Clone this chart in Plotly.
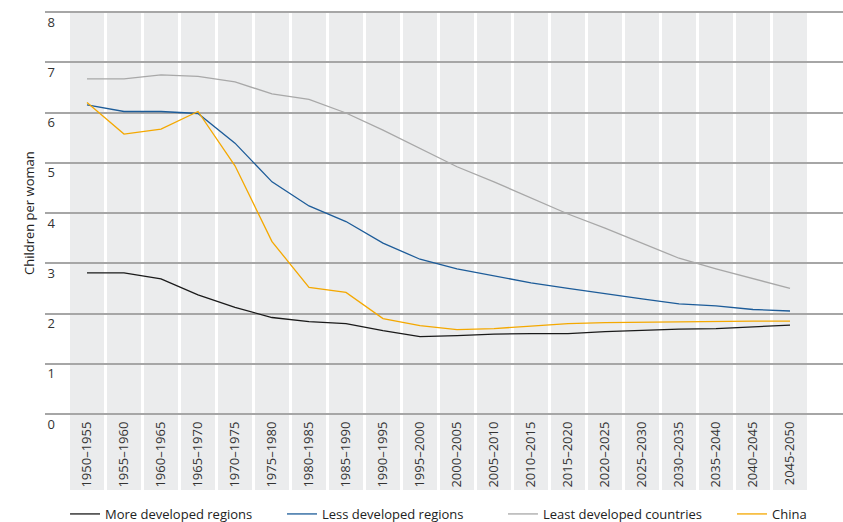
import plotly.graph_objects as go

periods = ["1950–1955", "1955–1960", "1960–1965", "1965–1970", "1970–1975",
           "1975–1980", "1980–1985", "1985–1990", "1990–1995", "1995–2000",
           "2000–2005", "2005–2010", "2010–2015", "2015–2020", "2020–2025",
           "2025–2030", "2030–2035", "2035–2040", "2040–2045", "2045-2050"]

more_developed = [2.81, 2.81, 2.69, 2.37, 2.12, 1.92, 1.84, 1.80, 1.66, 1.54,
                  1.56, 1.59, 1.60, 1.60, 1.64, 1.67, 1.69, 1.70, 1.73, 1.77]
less_developed = [6.15, 6.02, 6.02, 5.98, 5.39, 4.62, 4.14, 3.83, 3.40, 3.08,
                  2.89, 2.75, 2.61, 2.50, 2.39, 2.29, 2.19, 2.15, 2.08, 2.05]
least_developed = [6.67, 6.67, 6.75, 6.72, 6.61, 6.37, 6.26, 5.99, 5.65, 5.29,
                   4.92, 4.62, 4.30, 3.98, 3.70, 3.40, 3.10, 2.89, 2.69, 2.50]
china = [6.20, 5.57, 5.67, 6.02, 4.94, 3.43, 2.52, 2.42, 1.90, 1.76,
         1.68, 1.70, 1.75, 1.80, 1.82, 1.83, 1.84, 1.85, 1.85, 1.85]

y_ticks = [0, 1, 2, 3, 4, 5, 6, 7, 8]

series = [
    ("More developed regions", more_developed, "#1a1a1a", "legend", 0.0251),
    ("Less developed regions", less_developed, "#1d5c99", "legend2", 0.2970),
    ("Least developed countries", least_developed, "#a8a8a8", "legend3", 0.5739),
    ("China", china, "#f4a800", "legend4", 0.8609),
]

FONT = "Open Sans, Noto Sans, sans-serif"

fig = go.Figure()
for name, vals, color, lg, _ in series:
    fig.add_trace(go.Scatter(
        x=periods, y=vals, name=name, mode="lines", legend=lg,
        line=dict(color=color, width=1.3),
    ))

# grey column bands behind each period (extend down behind the tick labels)
for i in range(len(periods)):
    fig.add_shape(type="rect", xref="x", yref="paper",
                  x0=i - 0.46, x1=i + 0.46, y0=-0.1789, y1=0.9926,
                  fillcolor="#ebeced", line=dict(width=0), layer="below")

legend_style = dict(orientation="h", xanchor="left", y=-0.2377, yanchor="middle",
                    font=dict(size=13, color="#222222"),
                    bgcolor="rgba(0,0,0,0)", borderwidth=0)

layout_legends = {}
for name, vals, color, lg, lx in series:
    layout_legends[lg] = dict(x=lx, **legend_style)

fig.update_layout(
    width=843, height=522,
    margin=dict(l=45, r=0, t=9, b=105, autoexpand=False),
    paper_bgcolor="white", plot_bgcolor="rgba(0,0,0,0)",
    font=dict(family=FONT, size=13, color="#333333"),
    xaxis=dict(
        type="category", range=[-1.135, 20.432], automargin=False,
        showgrid=False, zeroline=False, showline=False, ticks="",
        tickangle=-90, ticklabelstandoff=1,
        tickfont=dict(size=13, color="#333333"),
    ),
    yaxis=dict(
        range=[-0.0597, 8.0597], tickvals=y_ticks, automargin=False,
        showgrid=True, gridcolor="#a6a6a6", gridwidth=1.5,
        zeroline=False, showline=False, ticks="",
        ticklabelstandoff=-11, ticklabelshift=10,
        tickfont=dict(size=13, color="#333333"),
    ),
    showlegend=True,
    annotations=[dict(
        text="Children per woman", xref="paper", yref="y",
        x=-0.0338, y=4, textangle=-90, showarrow=False,
        font=dict(size=13, color="#222222"),
    )],
    **layout_legends,
)

fig.write_html("out.html", config={"displayModeBar": False},
               post_script="document.body.style.margin='0';")
